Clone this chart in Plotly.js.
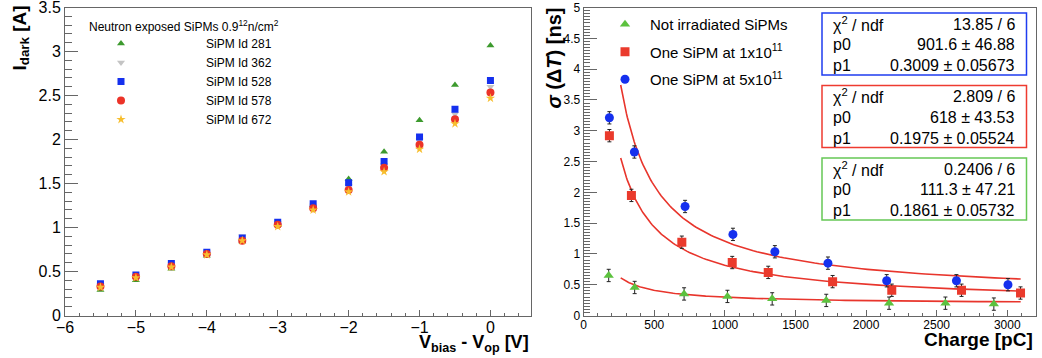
<!DOCTYPE html>
<html><head><meta charset="utf-8">
<script src="https://cdn.plot.ly/plotly-3.0.1.min.js"></script>
<style>html,body{margin:0;padding:0;background:#fff}#chart{width:1042px;height:358px}</style>
</head><body><div id="chart"></div>
<script>
// ---- Left panel: dark current vs overvoltage ----
const vDiff = [-5.5,-5,-4.5,-4,-3.5,-3,-2.5,-2,-1.5,-1,-0.5,0];
const id281 = [0.29,0.40,0.53,0.68,0.84,1.03,1.26,1.55,1.86,2.22,2.62,3.07];
const id362 = [0.35,0.45,0.58,0.72,0.90,1.05,1.25,1.47,1.71,1.99,2.29,2.60];
const id528 = [0.36,0.46,0.59,0.72,0.88,1.06,1.27,1.51,1.75,2.03,2.345,2.67];
const id578 = [0.33,0.44,0.56,0.70,0.85,1.03,1.22,1.425,1.68,1.94,2.23,2.535];
const id672 = [0.32,0.43,0.55,0.69,0.85,1.01,1.20,1.405,1.635,1.89,2.18,2.47];
const leftNames = ['SiPM Id 281','SiPM Id 362','SiPM Id 528','SiPM Id 578','SiPM Id 672'];
const leftHeader = 'Neutron exposed SiPMs 0.9<sup>12</sup>n/cm<sup>2</sup>';

// ---- Right panel: time resolution vs charge ----
const qNotIrr = [177,361,711,1018,1335,1718,2163,2562,2905];
const sNotIrr = [0.65,0.455,0.35,0.31,0.27,0.245,0.20,0.20,0.185];
const eNotIrr = [0.1,0.1,0.1,0.1,0.1,0.1,0.1,0.1,0.1];
const q1e11 = [182,338,695,1052,1307,1763,2182,2676,3094];
const s1e11 = [2.92,1.95,1.19,0.86,0.70,0.55,0.41,0.41,0.365];
const e1e11 = [0.1,0.1,0.1,0.1,0.1,0.1,0.1,0.1,0.1];
const q5e11 = [182,359,718,1057,1354,1730,2146,2640,3005];
const s5e11 = [3.21,2.655,1.77,1.317,1.035,0.85,0.564,0.564,0.50];
const e5e11 = [0.1,0.1,0.1,0.1,0.1,0.1,0.1,0.1,0.1];
const rightNames = ['Not irradiated SiPMs','One SiPM at 1x10<sup>11</sup>','One SiPM at 5x10<sup>11</sup>'];

// fit results (sigma = p0/Q + p1) as printed in the stat boxes
const fitChi2 = ['13.85 / 6','2.809 / 6','0.2406 / 6'];
const fitP0 = [901.6, 618, 111.3];
const fitP0Err = ['46.88','43.53','47.21'];
const fitP1 = [0.3009, 0.1975, 0.1861];
const fitP1Err = ['0.05673','0.05524','0.05732'];
const fitRange = [262, 3095];

const W = 1042, H = 358;
const font = 'Liberation Sans, Arial, Helvetica, sans-serif';
const axCol = '#666';

const traces = [];
const leftSeries = [id281,id362,id528,id578,id672];
const leftSym = ['triangle-up','triangle-down','square','circle','star'];
const leftCol = ['#3d9a2e','#c4c4c4','#1530ee','#ec3328','#f7be2e'];
const leftSize = [7,7,7,8,7];
leftSeries.forEach((s,i)=>{
  traces.push({x:vDiff,y:s,type:'scatter',mode:'markers',name:leftNames[i],xaxis:'x',yaxis:'y',
    marker:{symbol:leftSym[i],color:leftCol[i],size:leftSize[i],line:{width:0}},legend:'legend'});
});

// fit curves: sigma(Q) = p0/Q + p1 with the printed parameters
const fitCols = ['#e8352c','#e8352c','#e8352c'];
for(let k=0;k<3;k++){
  const fx=[],fy=[];
  const n=120;
  for(let j=0;j<=n;j++){
    const q = fitRange[0]*Math.pow(fitRange[1]/fitRange[0], j/n);
    fx.push(q); fy.push(fitP0[k]/q + fitP1[k]);
  }
  traces.push({x:fx,y:fy,type:'scatter',mode:'lines',xaxis:'x2',yaxis:'y2',showlegend:false,
    line:{color:fitCols[k],width:1.6},hoverinfo:'skip'});
}
const rQ=[qNotIrr,q1e11,q5e11], rS=[sNotIrr,s1e11,s5e11], rE=[eNotIrr,e1e11,e5e11];
const rSym=['triangle-up','square','circle'], rCol=['#5cc23e','#ea3a2c','#1530ee'], rSize=[9,9,9];
for(let k=0;k<3;k++){
  traces.push({x:rQ[k],y:rS[k],type:'scatter',mode:'markers',name:rightNames[k],xaxis:'x2',yaxis:'y2',
    legend:'legend2',legendgroup:'g'+k,
    error_y:{type:'data',array:rE[k],visible:true,color:'#222',thickness:1,width:2},
    marker:{symbol:rSym[k],color:rCol[k],size:rSize[k],line:{width:0}}});
}

const yDom = [(H-315.5)/H, (H-7.5)/H];
function axis(extra){
  return Object.assign({showline:true,linecolor:axCol,linewidth:1,mirror:true,ticks:'inside',tickcolor:axCol,
    showgrid:false,zeroline:false,tickfont:{family:font,size:16,color:'#000'},fixedrange:true,
    ticklabeloverflow:'allow'},extra);
}
const annotations = [];
annotations.push({xref:'paper',yref:'paper',x:87/W,y:1-26/H,xanchor:'left',yanchor:'middle',showarrow:false,
  text:leftHeader,font:{family:font,size:12,color:'#000'}});
// axis titles
annotations.push({xref:'paper',yref:'paper',x:21/W,y:1-4/H,xanchor:'center',yanchor:'top',showarrow:false,textangle:-90,
  text:'<b>I<sub>dark</sub> [A]</b>',font:{family:font,size:19,color:'#000'}});
annotations.push({xref:'paper',yref:'paper',x:531/W,y:1-343/H,xanchor:'right',yanchor:'middle',showarrow:false,
  text:'<b>V<sub>bias</sub> - V<sub>op</sub> [V]</b>',font:{family:font,size:18,color:'#000'}});
annotations.push({xref:'paper',yref:'paper',x:1035/W,y:1-339/H,xanchor:'right',yanchor:'middle',showarrow:false,
  text:'<b>Charge [pC]</b>',font:{family:font,size:19,color:'#000'}});
annotations.push({xref:'paper',yref:'paper',x:553/W,y:1-6/H,xanchor:'center',yanchor:'top',showarrow:false,textangle:-90,
  text:'<b><i>σ</i> (Δ<i>T</i>) [ns]</b>',font:{family:font,size:20,color:'#000'}});

// stat boxes
const shapes = [];
const boxCols = ['#1f3cf0','#ee3b30','#66c855'];
const boxTop = [13,85.5,158];
[0,1,2].forEach((k,b)=>{
  const t = boxTop[b];
  shapes.push({type:'rect',xref:'paper',yref:'paper',x0:822/W,x1:1026.5/W,y0:1-t/H,y1:1-(t+62)/H,
    line:{color:boxCols[b],width:1.5},fillcolor:'#fff'});
  const rows = [['χ<sup>2</sup> / ndf', fitChi2[k]],['p0', fitP0[k]+' ± '+fitP0Err[k]],['p1', fitP1[k]+' ± '+fitP1Err[k]]];
  rows.forEach((r,i)=>{
    const yy = t + 11 + i*20.8;
    annotations.push({xref:'paper',yref:'paper',x:831/W,y:1-yy/H,xanchor:'left',yanchor:'middle',showarrow:false,
      text:r[0],font:{family:font,size:16,color:'#000'}});
    annotations.push({xref:'paper',yref:'paper',x:1017/W,y:1-yy/H,xanchor:'right',yanchor:'middle',showarrow:false,
      text:r[1],font:{family:font,size:16,color:'#000'}});
  });
});

const layout = {
  width:W,height:H,margin:{l:0,r:0,t:0,b:0},paper_bgcolor:'#fff',plot_bgcolor:'#fff',
  font:{family:font,color:'#000'},
  xaxis:axis({domain:[65/W,530.5/W],anchor:'y',range:[-6,0.565],tick0:0,dtick:1,ticklen:6,ticklabelstandoff:-3,
    tickfont:{family:font,size:16,color:'#000'},
    minor:{dtick:0.2,ticklen:3,ticks:'inside',tickcolor:axCol}}),
  yaxis:axis({domain:yDom,anchor:'x',range:[0,3.5005],tick0:0,dtick:0.5,ticklen:13,
    minor:{dtick:0.1,ticklen:7,ticks:'inside',tickcolor:axCol}}),
  xaxis2:axis({domain:[583.7/W,1035.5/W],anchor:'y2',range:[0,3200],tick0:0,dtick:500,ticklen:6,ticklabelstandoff:-2,
    tickfont:{family:font,size:12,color:'#000'},
    minor:{dtick:100,ticklen:3,ticks:'inside',tickcolor:axCol}}),
  yaxis2:axis({domain:yDom,anchor:'x2',range:[0,5.0008],tick0:0,dtick:0.5,ticklen:13,tickfont:{family:font,size:12,color:'#000'},
    minor:{dtick:0.05,ticklen:6,ticks:'inside',tickcolor:axCol}}),
  legend:{x:36/W,y:1-29/H,xanchor:'left',yanchor:'top',bgcolor:'rgba(0,0,0,0)',font:{family:font,size:12,color:'#000'},
    itemwidth:160,traceorder:'normal'},
  legend2:{x:600/W,y:1-8/H,xanchor:'left',yanchor:'top',bgcolor:'rgba(0,0,0,0)',font:{family:font,size:15,color:'#000'},
    itemwidth:40,tracegroupgap:5,traceorder:'grouped'},
  showlegend:true,
  shapes:shapes,annotations:annotations
};
Plotly.newPlot('chart',traces,layout,{displayModeBar:false,staticPlot:true});
</script></body></html>
